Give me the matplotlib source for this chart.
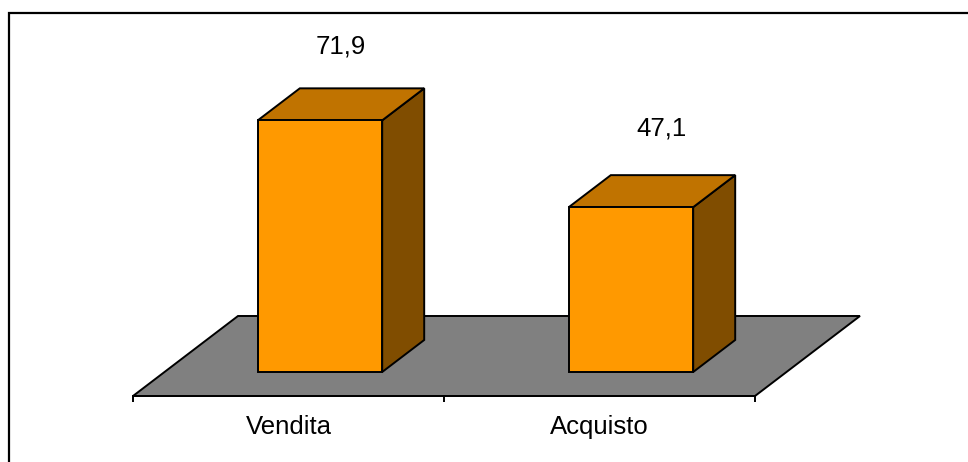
import matplotlib
matplotlib.use("Agg")
import matplotlib.pyplot as plt
from matplotlib.patches import Polygon, Rectangle

plt.rcParams['font.family'] = ['Liberation Sans', 'DejaVu Sans']

# Data
categories = ["Vendita", "Acquisto"]
values = [71.9, 47.1]
value_labels = ["71,9", "47,1"]

# 3D look (x in category units, y in value units)
DX = 0.3376       # full floor depth, horizontal
DY = 22.86        # full floor depth, vertical
BAR_W = 0.4
D0, D1 = 0.3, 0.7  # bar front / back depth

FRONT = "#FF9900"
TOP = "#C07300"
SIDE = "#804D00"
FLOOR = "#808080"
LW = 1.4
FS = 18.5


def pt(x, v, d):
    return (x + d * DX, v + d * DY)


fig = plt.figure(figsize=(9.68, 4.62), dpi=100)
ax = fig.add_axes([133 / 968, 66 / 462, 622 / 968, 376 / 462])
ax.set_xlim(-0.5, len(categories) - 0.5)
ax.set_ylim(0, 376 / 3.5)

# floor
x0, x1 = -0.5, len(categories) - 0.5
floor = Polygon([pt(x0, 0, 0), pt(x1, 0, 0), pt(x1, 0, 1), pt(x0, 0, 1)],
                closed=True, facecolor=FLOOR, edgecolor="black", lw=LW,
                clip_on=False, zorder=1)
ax.add_patch(floor)

# bars
for i, v in enumerate(values):
    l, r = i - BAR_W / 2, i + BAR_W / 2
    front = [pt(l, 0, D0), pt(r, 0, D0), pt(r, v, D0), pt(l, v, D0)]
    top = [pt(l, v, D0), pt(r, v, D0), pt(r, v, D1), pt(l, v, D1)]
    side = [pt(r, 0, D0), pt(r, 0, D1), pt(r, v, D1), pt(r, v, D0)]
    for poly, col in [(side, SIDE), (top, TOP), (front, FRONT)]:
        ax.add_patch(Polygon(poly, closed=True, facecolor=col, edgecolor="black",
                             lw=LW, joinstyle="miter", clip_on=False, zorder=2))

# value labels
offsets = [(0, 42), (7, 45)]
for i, (v, lab) in enumerate(zip(values, value_labels)):
    ax.annotate(lab, pt(i, v, 0.5), xytext=offsets[i],
                textcoords="offset points", ha="center", va="center", fontsize=FS)

# axis
for s in ["top", "left", "right"]:
    ax.spines[s].set_visible(False)
ax.spines["bottom"].set_linewidth(LW)
ax.spines["bottom"].set_zorder(3)
ax.set_yticks([])
ax.set_xticks(range(len(categories)))
ax.set_xticklabels(categories, fontsize=FS)
ax.tick_params(axis="x", which="major", length=0, pad=13.5)
ax.set_xticks([-0.5, 0.5, 1.5], minor=True)
ax.tick_params(axis="x", which="minor", length=4, width=LW, direction="out")
ax.patch.set_visible(False)

# chart border (only top/left visible in the frame)
fig.patches.append(Rectangle((9 / 968, -0.2), 1.2, (462 - 13) / 462 + 0.2,
                             transform=fig.transFigure, fill=False,
                             edgecolor="black", lw=1.6))

fig.savefig("out.png", dpi=100)
